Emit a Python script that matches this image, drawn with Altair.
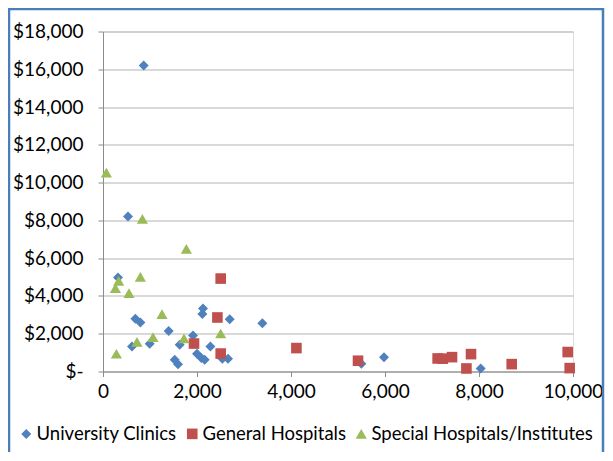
import altair as alt
import pandas as pd

series_names = ["University Clinics", "General Hospitals", "Special Hospitals/Institutes"]
series_colors = ["#4F81BD", "#C0504D", "#9BBB59"]
series_shapes = ["diamond", "square", "triangle-up"]
series_sizes = [100, 125, 125]

uni_x = [866, 532, 319, 2128, 2114, 2696, 689, 795, 1398, 1915, 2285, 994, 617, 1632,
         2000, 2093, 2164, 1526, 1596, 2540, 2660, 3391, 5498, 5979, 8036]
uni_y = [16200, 8200, 4970, 3330, 3040, 2770, 2790, 2590, 2140, 1900, 1320, 1470, 1320, 1410,
         940, 710, 620, 620, 390, 670, 670, 2560, 410, 760, 160]

gen_x = [2504, 2434, 1936, 2504, 4115, 5426, 7120, 7230, 7426, 7830, 7732, 8696, 9887, 9930]
gen_y = [4920, 2860, 1480, 950, 1240, 570, 690, 680, 760, 920, 160, 390, 1030, 180]

spec_x = [72, 838, 1774, 795, 334, 264, 553, 1255, 1064, 723, 1723, 2504, 285]
spec_y = [10530, 8080, 6490, 5010, 4800, 4410, 4150, 3040, 1820, 1570, 1750, 2010, 940]

x_ticks = [0, 2000, 4000, 6000, 8000, 10000]
y_ticks = [0, 2000, 4000, 6000, 8000, 10000, 12000, 14000, 16000, 18000]

rows = []
for name, xs, ys in zip(series_names, [uni_x, gen_x, spec_x], [uni_y, gen_y, spec_y]):
    for xv, yv in zip(xs, ys):
        rows.append({"Beds": xv, "Cost": yv, "Type": name})
df = pd.DataFrame(rows)
df["idx"] = range(len(df))

FONT = "Lato"
FS = 19

points = alt.Chart(df).mark_point(filled=True, opacity=1).encode(
    x=alt.X("Beds:Q",
            scale=alt.Scale(domain=[0, 10000], nice=False, zero=True),
            axis=alt.Axis(values=x_ticks, format=",.0f", title=None, grid=False,
                          domain=True, domainColor="#8c8c8c", ticks=True, tickColor="#8c8c8c",
                          tickSize=5, labelPadding=6, labelFontSize=FS, labelFont=FONT,
                          labelColor="#000000", labelFlush=False, labelOverlap=False)),
    y=alt.Y("Cost:Q",
            scale=alt.Scale(domain=[0, 18000], nice=False),
            axis=alt.Axis(values=y_ticks, title=None, grid=True, gridColor="#b3b3b3",
                          gridWidth=1.2, domain=True, domainColor="#8c8c8c", ticks=True,
                          tickColor="#8c8c8c", tickSize=5, labelPadding=15,
                          labelFontSize=FS, labelFont=FONT, labelColor="#000000",
                          labelFlush=False, labelOverlap=False,
                          labelExpr="datum.value == 0 ? '$-' : '$' + format(datum.value, ',')")),
    color=alt.Color("Type:N",
                    scale=alt.Scale(domain=series_names, range=series_colors),
                    legend=alt.Legend(title=None, orient="none", direction="horizontal",
                                      legendX=-86, legendY=393, labelFont=FONT,
                                      labelFontSize=18.5, labelColor="#000000", labelLimit=400,
                                      symbolSize=50, columnPadding=6, labelOffset=1,
                                      symbolOpacity=1)),
    shape=alt.Shape("Type:N",
                    scale=alt.Scale(domain=series_names, range=series_shapes),
                    legend=None),
    size=alt.Size("Type:N",
                  scale=alt.Scale(domain=series_names, range=series_sizes),
                  legend=None),
    order=alt.Order("idx:Q"),
)

frame_df = pd.DataFrame({"k": [0]})
frame = alt.Chart(frame_df).mark_rect(fill=None, stroke="#4A7EBB", strokeWidth=2.5, clip=False).encode(
    x=alt.value(-94), x2=alt.value(500), y=alt.value(-22.5), y2=alt.value(460)
)

chart = alt.layer(frame, points).properties(
    width=470, height=340,
    padding={"left": 95, "top": 23.5, "right": 32, "bottom": 80},
    autosize=alt.AutoSizeParams(type="none"),
).configure_view(stroke=None).configure(background="white")

chart.save("out.html", embed_options={"renderer": "svg", "actions": False})
